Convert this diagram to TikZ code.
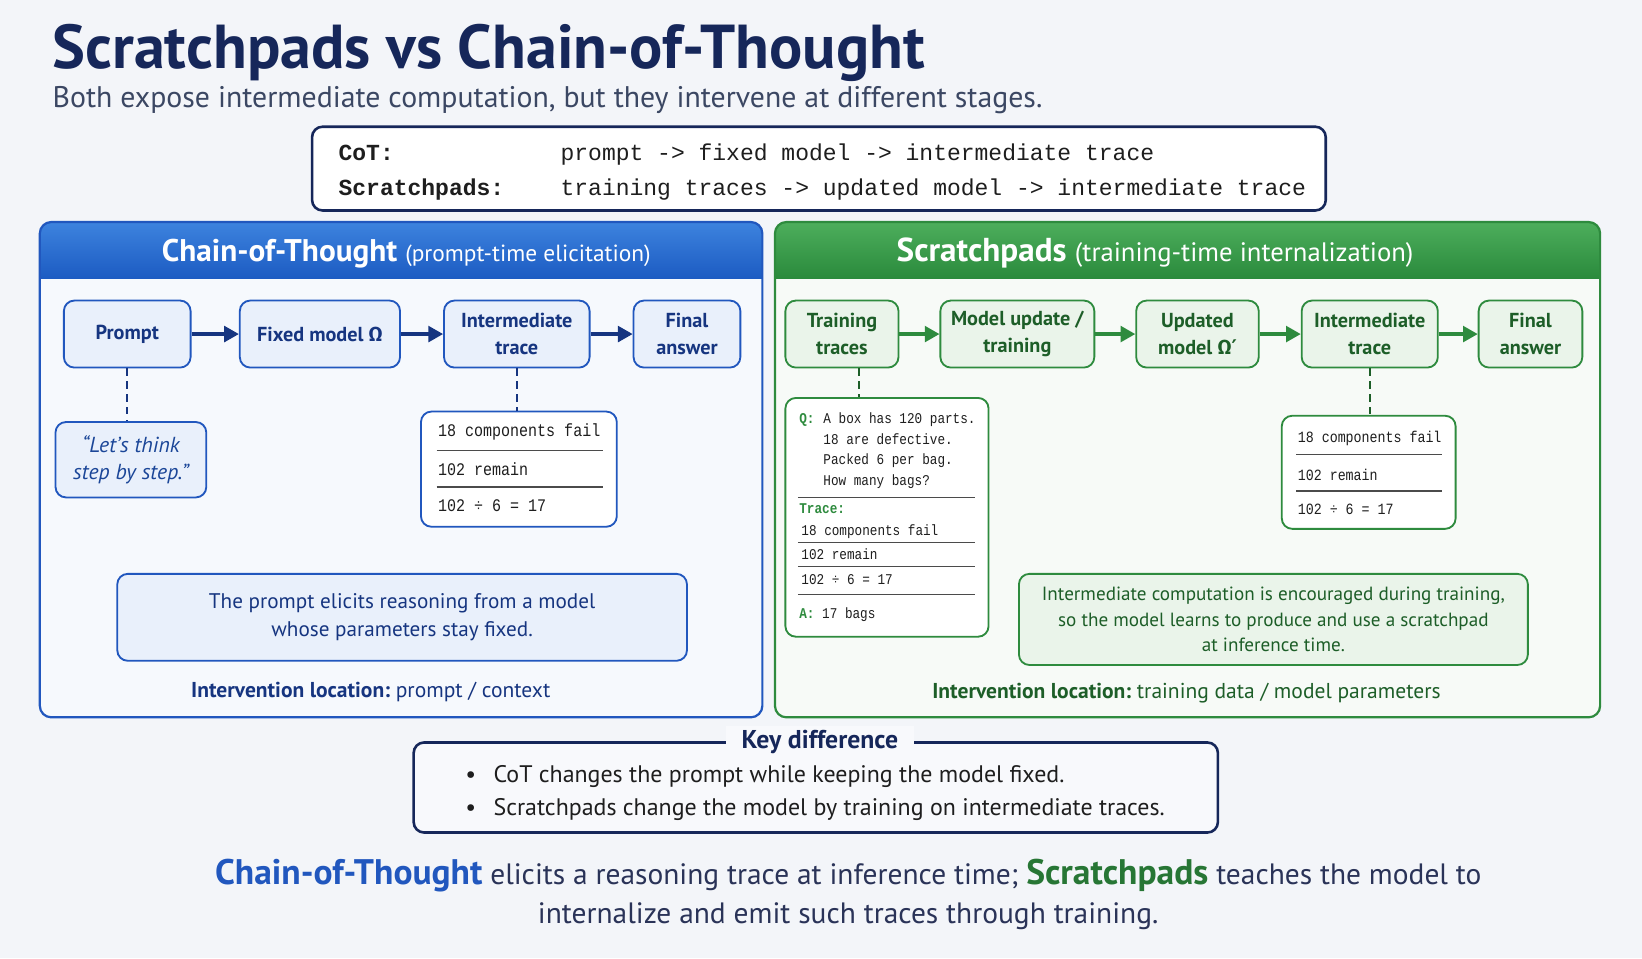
\documentclass[tikz,border=0pt]{standalone}
\usepackage{fontspec}
\setmainfont{PT Sans}
\setmonofont{Liberation Mono}
\newfontfamily\greekfont{Fira Sans}
\newfontfamily\symbfont{DejaVu Sans}
\newfontfamily\narrowmono{Liberation Mono}[FakeStretch=0.85]
\usetikzlibrary{positioning, calc, arrows.meta}

\definecolor{bgcol}{HTML}{F3F5F9}
\definecolor{navy}{HTML}{16275A}
\definecolor{subgray}{HTML}{3B4763}
\definecolor{cotblue}{HTML}{2157BE}
\definecolor{cotdark}{HTML}{163580}
\definecolor{cotnode}{HTML}{E9F0FB}
\definecolor{cotbody}{HTML}{F6F9FD}
\definecolor{cottop}{HTML}{3D83DE}
\definecolor{cotbot}{HTML}{1C5BC2}
\definecolor{spgreen}{HTML}{2E8B3E}
\definecolor{spdark}{HTML}{1D5E28}
\definecolor{spnode}{HTML}{EAF4EA}
\definecolor{spbody}{HTML}{F7FAF7}
\definecolor{sptop}{HTML}{4DAE5C}
\definecolor{spbot}{HTML}{2A8A3C}
\definecolor{monoink}{HTML}{1E1E1E}
\definecolor{sumink}{HTML}{2A3358}
\definecolor{keyfill}{HTML}{F8F9FC}

\newcommand\fsz[2]{\fontsize{#1}{#2}\selectfont}

\tikzset{
  panel/.style={rounded corners=0.22cm, outer sep=0pt},
  stepB/.style={draw=cotblue, fill=cotnode, line width=1pt, rounded corners=0.2cm,
    align=center, minimum height=1.28cm, text=cotdark, font=\fsz{11}{14.5}\bfseries},
  stepG/.style={stepB, draw=spgreen, fill=spnode, text=spdark},
  flowB/.style={-{Triangle[length=0.28cm, width=0.3cm]}, line width=1.7pt, draw=cotdark},
  flowG/.style={flowB, draw=spgreen},
  tether/.style={line width=1pt, dash pattern=on 4pt off 3pt},
  tracebox/.style={draw, fill=white, line width=1pt, rounded corners=0.2cm},
  monorow/.style={anchor=base west, inner sep=0pt, text=monoink},
  notebox/.style={draw, line width=1pt, rounded corners=0.2cm, align=center},
  sep/.style={draw=monoink!80, line width=0.7pt}
}

\begin{document}
\begin{tikzpicture}
  \fill[bgcol] (0,0) rectangle (31.36,-18.3);
  \useasboundingbox (0,0) rectangle (31.36,-18.3);

  % heading
  \node[anchor=base west, inner sep=0pt, text=navy, font=\fsz{33.7}{40}\bfseries] (title) at (1.0,-1.30) {Scratchpads vs Chain-of-Thought};
  \node[anchor=base west, inner sep=0pt, text=subgray, font=\fsz{16.2}{19}] (subtitle) at (1.0,-2.06) {Both expose intermediate computation, but they intervene at different stages.};

  % the two pipelines in one line each
  \node[draw=navy, fill=white, line width=1.4pt, rounded corners=0.2cm, minimum width=19.36cm, minimum height=1.6cm] (pipes) at (15.64,-3.22) {};
  \node[monorow, font=\fsz{12.5}{15}\ttfamily\bfseries] (cotlbl) at (6.46,-3.07) {CoT:};
  \node[monorow, font=\fsz{12.5}{15}\ttfamily\bfseries] (splbl) at (6.46,-3.73) {Scratchpads:};
  \node[monorow, font=\fsz{12.5}{15}\ttfamily] (cotpipe) at (10.70,-3.07) {prompt -> fixed model -> intermediate trace};
  \node[monorow, font=\fsz{12.5}{15}\ttfamily] (sppipe) at (10.70,-3.73) {training traces -> updated model -> intermediate trace};

  % panels
  \node[panel, fill=cotbody, minimum width=13.8cm, minimum height=9.46cm] (cotpanel) at (7.66,-8.97) {};
  \node[panel, fill=spbody, minimum width=15.76cm, minimum height=9.46cm] (sppanel) at (22.68,-8.97) {};
  \begin{scope}
    \clip[rounded corners=0.22cm] (cotpanel.north west) rectangle (cotpanel.south east);
    \fill[top color=cottop, bottom color=cotbot] (cotpanel.north west) rectangle ($(cotpanel.north east)+(0,-1.08)$);
  \end{scope}
  \begin{scope}
    \clip[rounded corners=0.22cm] (sppanel.north west) rectangle (sppanel.south east);
    \fill[top color=sptop, bottom color=spbot] (sppanel.north west) rectangle ($(sppanel.north east)+(0,-1.08)$);
  \end{scope}
  \draw[cotblue, line width=1.2pt, rounded corners=0.22cm] (cotpanel.north west) rectangle (cotpanel.south east);
  \draw[spgreen, line width=1.2pt, rounded corners=0.22cm] (sppanel.north west) rectangle (sppanel.south east);
  \node[text=white, font=\fsz{17}{20}\bfseries] (cothead) at (7.76,-4.84) {Chain-of-Thought \fsz{12.7}{14}\mdseries(prompt-time elicitation)};
  \node[text=white, font=\fsz{18}{20}\bfseries] (sphead) at (22.06,-4.84) {Scratchpads \fsz{14.5}{16}\mdseries(training-time internalization)};

  % chain-of-thought flow
  \node[stepB, minimum width=2.42cm] (prompt) at (2.43,-6.38) {Prompt};
  \node[stepB, minimum width=3.06cm] (fixed) at (6.11,-6.38) {Fixed model {\greekfont Ω}};
  \node[stepB, minimum width=2.78cm] (trace) at (9.87,-6.38) {Intermediate\\trace};
  \node[stepB, minimum width=2.04cm] (answer) at (13.12,-6.38) {Final\\answer};
  \foreach \a/\b in {prompt/fixed, fixed/trace, trace/answer}
    \draw[flowB] (\a) -- (\b);

  \node[stepB, font=\fsz{11.8}{14.4}\itshape, text=cotblue!80!black, minimum width=2.88cm, minimum height=1.44cm] (hint) at (2.50,-8.78) {“Let’s think\\step by step.”};
  \draw[tether, cotdark] (prompt.south) -- (prompt.south |- hint.north);

  \node[tracebox, draw=cotblue, minimum width=3.74cm, minimum height=2.2cm] (cottrace) at (9.91,-8.96) {};
  \draw[tether, cotdark] (trace.south) -- (trace.south |- cottrace.north);
  \foreach \t/\y in {18 components fail/-8.34, 102 remain/-9.08, 102 ÷ 6 = 17/-9.76}
    \node[monorow, font=\fsz{9.6}{11}\narrowmono] at (8.36,\y) {\t};
  \foreach \y in {-8.60, -9.30}
    \draw[sep] (8.34,\y) -- (11.52,\y);

  \node[notebox, draw=cotblue, fill=cotnode, text=cotdark, font=\fsz{11.5}{15}, minimum width=10.88cm, minimum height=1.66cm] (cotnote) at (7.68,-11.79) {The prompt elicits reasoning from a model\\whose parameters stay fixed.};
  \node[text=cotdark, font=\fsz{11.7}{14}] (cotwhere) at (7.08,-13.22) {\bfseries Intervention location:\mdseries\ prompt / context};

  % scratchpad flow
  \node[stepG, minimum width=2.16cm] (traces) at (16.08,-6.38) {Training\\traces};
  \node[stepG, minimum width=2.94cm] (update) at (19.43,-6.38) {Model update /\\training};
  \node[stepG, minimum width=2.34cm] (updated) at (22.87,-6.38) {Updated\\model {\greekfont Ω}{\symbfont ′}};
  \node[stepG, minimum width=2.60cm] (traceS) at (26.16,-6.38) {Intermediate\\trace};
  \node[stepG, minimum width=1.98cm] (answerS) at (29.23,-6.38) {Final\\answer};
  \foreach \a/\b in {traces/update, update/updated, updated/traceS, traceS/answerS}
    \draw[flowG] (\a) -- (\b);

  \node[tracebox, draw=spgreen, minimum width=3.88cm, minimum height=4.56cm] (qbox) at (16.94,-9.88) {};
  \coordinate (qtop) at ($(traces.south)+(0.32,0)$);
  \draw[tether, spdark] (qtop) -- (qtop |- qbox.north);
  \node[monorow, font=\fsz{8.1}{10}\narrowmono\bfseries, text=spgreen] (qlbl) at (15.26,-8.08) {Q:};
  \foreach \t/\y in {A box has 120 parts./-8.08, 18 are defective./-8.48, Packed 6 per bag./-8.88, How many bags?/-9.28}
    \node[monorow, font=\fsz{8.1}{10}\narrowmono] at (15.72,\y) {\t};
  \node[monorow, font=\fsz{8.1}{10}\narrowmono\bfseries, text=spgreen] (tlbl) at (15.26,-9.80) {Trace:};
  \foreach \t/\y in {18 components fail/-10.22, 102 remain/-10.68, 102 ÷ 6 = 17/-11.16}
    \node[monorow, font=\fsz{8.1}{10}\narrowmono] at (15.30,\y) {\t};
  \node[monorow, font=\fsz{8.1}{10}\narrowmono] (albl) at (15.26,-11.82) {\textcolor{spgreen}{\bfseries A:} 17 bags};
  \foreach \y in {-9.50, -10.36, -10.82, -11.36}
    \draw[sep] (15.24,\y) -- (18.62,\y);

  \node[tracebox, draw=spgreen, minimum width=3.32cm, minimum height=2.16cm] (sptrace) at (26.14,-9.02) {};
  \draw[tether, spdark] (traceS.south) -- (traceS.south |- sptrace.north);
  \foreach \t/\y in {18 components fail/-8.45, 102 remain/-9.17, 102 ÷ 6 = 17/-9.83}
    \node[monorow, font=\fsz{8.5}{10}\narrowmono] at (24.78,\y) {\t};
  \foreach \y in {-8.68, -9.38}
    \draw[sep] (24.76,\y) -- (27.54,\y);

  \node[notebox, draw=spgreen, fill=spnode, text=spdark, font=\fsz{10.4}{13.7}, minimum width=9.72cm, minimum height=1.74cm] (spnote) at (24.32,-11.83) {Intermediate computation is encouraged during training,\\so the model learns to produce and use a scratchpad\\at inference time.};
  \node[text=spdark, font=\fsz{11.7}{14}] (spwhere) at (22.66,-13.24) {\bfseries Intervention location:\mdseries\ training data / model parameters};

  % key difference
  \node[draw=navy, fill=keyfill, line width=1.4pt, rounded corners=0.2cm, minimum width=15.36cm, minimum height=1.72cm] (keybox) at (15.58,-15.04) {};
  \node[fill=keyfill, inner xsep=0.3cm, inner ysep=0.08cm, text=navy, font=\fsz{14}{16}\bfseries] (keytitle) at (15.66,-14.18) {Key difference};
  \foreach \t/\y in {CoT changes the prompt while keeping the model fixed./-14.95, Scratchpads change the model by training on intermediate traces./-15.57} {
    \node[monorow, font=\fsz{13}{15}] at (8.88,\y) {\textbullet};
    \node[monorow, font=\fsz{13}{15}] at (9.42,\y) {\t};
  }

  % summary
  \node[align=center, text=sumink, font=\fsz{16}{21.6}] (summary) at (16.2,-17.08) {{\fsz{19.3}{22}\bfseries\color{cotblue}Chain-of-Thought} elicits a reasoning trace at inference time; {\fsz{19.3}{22}\bfseries\color{spgreen!85!black}Scratchpads} teaches the model to\\internalize and emit such traces through training.};
\end{tikzpicture}
\end{document}
